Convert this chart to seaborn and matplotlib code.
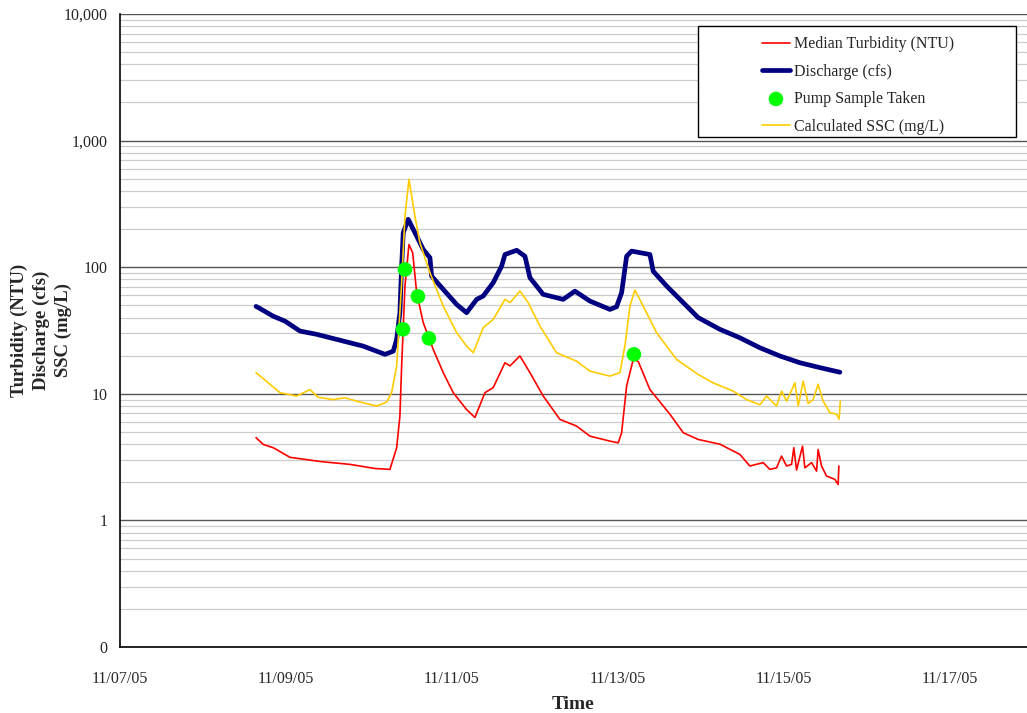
import numpy as np
import matplotlib
matplotlib.use("Agg")
import matplotlib.pyplot as plt
from matplotlib.patches import Rectangle
from matplotlib.ticker import FixedLocator, FixedFormatter, LogLocator, NullFormatter
import pandas as pd
import seaborn as sns

# czas w dniach od 11/07/05 00:00
t0 = pd.Timestamp("2005-11-07")

q_days = [1.639, 1.666, 1.847, 1.988, 2.169, 2.370, 2.611, 2.771, 2.931, 3.093,
          3.193, 3.293, 3.334, 3.373, 3.394, 3.413, 3.473, 3.575, 3.654, 3.735,
          3.755, 3.895, 4.057, 4.177, 4.298, 4.377, 4.498, 4.599, 4.639, 4.780,
          4.880, 4.940, 5.100, 5.341, 5.482, 5.663, 5.904, 5.984, 6.045, 6.105,
          6.165, 6.386, 6.425, 6.587, 6.787, 6.967, 7.229, 7.470, 7.711, 7.952,
          8.193, 8.434, 8.675]
discharge = [49, 48, 41, 37.5, 31.3, 29.5, 26.9, 25.3, 23.8, 21.7,
             20.5, 21.7, 26.9, 43.7, 102, 187, 239, 176, 138, 119,
             85, 66.8, 50.8, 43.7, 55.7, 59.2, 75.5, 102, 126, 136,
             122, 82.6, 61, 55.7, 64.7, 54, 46.4, 48.7, 63, 122,
             134, 126, 93, 71, 52.5, 40, 32.3, 27.7, 23.1, 19.9,
             17.6, 16.1, 14.8]

ssc_days = [1.639, 1.807, 1.928, 2.129, 2.289, 2.386, 2.570, 2.711, 2.852, 3.093,
            3.213, 3.273, 3.334, 3.394, 3.434, 3.482, 3.554, 3.614, 3.735, 3.895,
            4.057, 4.177, 4.257, 4.377, 4.498, 4.639, 4.699, 4.819, 4.919, 5.060,
            5.261, 5.502, 5.663, 5.904, 6.024, 6.084, 6.145, 6.205, 6.305, 6.466,
            6.707, 6.967, 7.148, 7.389, 7.551, 7.711, 7.792, 7.912, 7.972, 8.033,
            8.133, 8.173, 8.233, 8.293, 8.353, 8.413, 8.473, 8.554, 8.635, 8.666,
            8.680]
ssc = [14.7, 11.9, 10.2, 9.6, 10.8, 9.4, 9.0, 9.3, 8.75, 8.0,
       8.6, 10.2, 16.6, 75, 253, 494, 253, 156, 90.5, 49.3,
       30.4, 23.8, 21.1, 33.3, 38.7, 55.7, 52.5, 64.7, 52.5, 34.3,
       21.1, 18.1, 15.1, 13.8, 14.7, 23.8, 49.3, 66, 49.3, 30.4,
       18.7, 14.2, 12.2, 10.5, 9.0, 8.2, 9.6, 8.0, 10.5, 8.75,
       12.2, 8.0, 12.6, 8.4, 9.0, 11.9, 8.75, 7.1, 6.9, 6.3,
       8.75]

ntu_days = [1.639, 1.727, 1.847, 2.048, 2.410, 2.771, 3.072, 3.253, 3.334, 3.373,
            3.394, 3.434, 3.482, 3.527, 3.575, 3.654, 3.775, 3.895, 4.016, 4.177,
            4.277, 4.398, 4.498, 4.639, 4.699, 4.819, 4.940, 5.100, 5.301, 5.502,
            5.663, 5.904, 6.004, 6.045, 6.105, 6.185, 6.245, 6.386, 6.627, 6.787,
            6.967, 7.229, 7.470, 7.590, 7.751, 7.831, 7.912, 7.972, 8.033, 8.093,
            8.120, 8.153, 8.225, 8.253, 8.334, 8.394, 8.413, 8.454, 8.514, 8.614,
            8.654, 8.663]
turbidity = [4.5, 3.98, 3.75, 3.15, 2.92, 2.77, 2.57, 2.53, 3.75, 6.67,
             16.6, 71, 151, 130, 63, 36.5, 22.4, 14.7, 10.2, 7.5,
             6.5, 10.2, 11.2, 17.6, 16.6, 19.9, 14.7, 9.6, 6.28, 5.56,
             4.63, 4.23, 4.1, 4.93, 11.5, 18.7, 18.0, 10.8, 6.9, 4.93,
             4.36, 4.0, 3.32, 2.69, 2.86, 2.53, 2.6, 3.22, 2.69, 2.77,
             3.75, 2.5, 3.86, 2.6, 2.86, 2.45, 3.63, 2.69, 2.24, 2.11,
             1.92, 2.69]

pump_days = [3.410, 3.434, 3.590, 3.723, 6.193]
pump_vals = [32.3, 96, 58.8, 27.4, 20.5]

ytick_vals = [0.1, 1, 10, 100, 1000, 10000]
ytick_labels = ["0", "1", "10", "100", "1,000", "10,000"]
xtick_labels = ["11/07/05", "11/09/05", "11/11/05", "11/13/05", "11/15/05", "11/17/05"]


def to_time(days):
    return t0 + pd.to_timedelta(np.array(days), unit="D")


df_q = pd.DataFrame({"time": to_time(q_days), "val": discharge})
df_ssc = pd.DataFrame({"time": to_time(ssc_days), "val": ssc})
df_ntu = pd.DataFrame({"time": to_time(ntu_days), "val": turbidity})
df_pump = pd.DataFrame({"time": to_time(pump_days), "val": pump_vals})

sns.set_style("white")
plt.rcParams["font.family"] = ["Liberation Serif", "DejaVu Serif"]

fig = plt.figure(figsize=(10.27, 7.13), dpi=100)
ax = fig.add_axes([120 / 1027, 1 - 647 / 713, 907 / 1027, 633 / 713])

ax.set_yscale("log")
ax.set_ylim(0.1, 10000)

# siatka
ax.yaxis.set_minor_locator(LogLocator(base=10, subs=np.arange(2, 10)))
ax.yaxis.set_minor_formatter(NullFormatter())
ax.grid(which="minor", axis="y", color="#cccccc", lw=0.9)
ax.grid(which="major", axis="y", color="#555555", lw=1.0)
ax.set_axisbelow(True)

sns.lineplot(data=df_q, x="time", y="val", ax=ax, color="#000080", lw=3.4,
             label="Discharge (cfs)")
sns.lineplot(data=df_ssc, x="time", y="val", ax=ax, color="#FFCC00", lw=1.2,
             label="Calculated SSC (mg/L)")
sns.lineplot(data=df_ntu, x="time", y="val", ax=ax, color="#FF0000", lw=1.2,
             label="Median Turbidity (NTU)")
sns.scatterplot(data=df_pump, x="time", y="val", ax=ax, color="#00FF00", s=110,
                edgecolor="none", zorder=5, label="Pump Sample Taken")

ax.yaxis.set_major_locator(FixedLocator(ytick_vals))
ax.yaxis.set_major_formatter(FixedFormatter(ytick_labels))

xt = to_time([0, 2, 4, 6, 8, 10])
ax.set_xlim(t0, t0 + pd.Timedelta(days=10.93))
ax.set_xticks(xt)
ax.set_xticklabels(xtick_labels)

ax.tick_params(axis="both", which="major", direction="out", length=5, width=1,
               color="black", labelsize=11.5, pad=4)
ax.tick_params(axis="x", pad=12)
ax.tick_params(axis="y", which="minor", length=0)

for s in ["top", "right"]:
    ax.spines[s].set_visible(False)
for s in ["left", "bottom"]:
    ax.spines[s].set_color("black")
    ax.spines[s].set_linewidth(1.2)

ax.set_xlabel("Time", fontsize=14, fontweight="bold", labelpad=7)
ax.set_ylabel("Turbidity (NTU)\nDischarge (cfs)\nSSC (mg/L)", fontsize=13.5,
              fontweight="bold", linespacing=1.35)
ax.yaxis.set_label_coords(-0.053, 0.5)

# ramka legendy
ax.add_patch(Rectangle((0.6373, 0.8057), 0.9879 - 0.6373, 0.9810 - 0.8057,
                       transform=ax.transAxes, facecolor="white",
                       edgecolor="black", lw=1.0, zorder=9))

handles, labels = ax.get_legend_handles_labels()
order = [labels.index(l) for l in ["Median Turbidity (NTU)", "Discharge (cfs)",
                                    "Pump Sample Taken", "Calculated SSC (mg/L)"]]
leg = ax.legend([handles[i] for i in order], [labels[i] for i in order],
                loc="upper left", bbox_to_anchor=(0.7078, 0.965), fontsize=11.5,
                frameon=False, handlelength=1.75, labelspacing=0.72,
                borderpad=0, handletextpad=0.25, borderaxespad=0)
leg.set_zorder(10)

fig.savefig("out.png", dpi=100)
